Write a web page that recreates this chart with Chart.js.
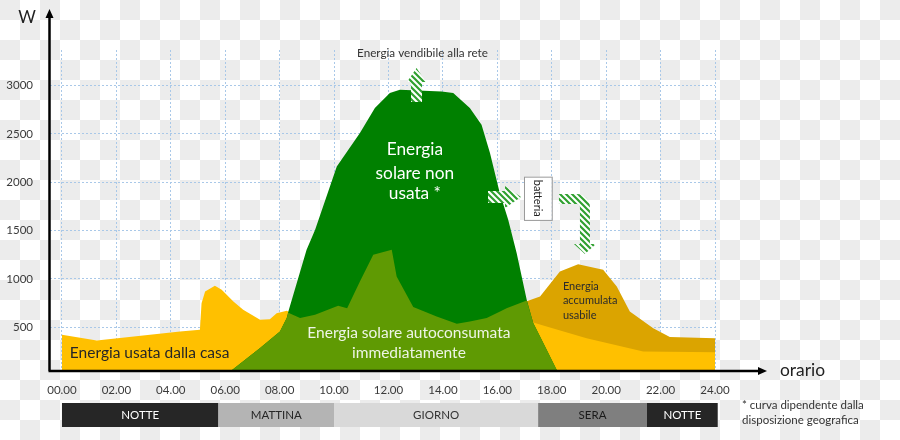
<!DOCTYPE html>
<html>
<head>
<meta charset="utf-8">
<script src="https://cdn.jsdelivr.net/npm/chart.js@4.4.1/dist/chart.umd.min.js"></script>
<style>
  html, body { margin: 0; padding: 0; }
  #wrap {
    width: 900px; height: 440px;
    background: repeating-conic-gradient(#ececec 0% 25%, #ffffff 0% 50%) 20px 0 / 40px 40px;
  }
</style>
</head>
<body>
<div id="wrap"><canvas id="chart" width="900" height="440"></canvas></div>
<script>
const tickHours = [0, 2, 4, 6, 8, 10, 12, 14, 16, 18, 20, 22, 24];
const tickWatts = [500, 1000, 1500, 2000, 2500, 3000];

// consumo casa (giallo)
const houseHours = [0, 1.28, 4.34, 5.07, 5.13, 5.26, 5.62, 5.87, 6.30, 6.66, 7.28, 7.64, 7.89, 8.26, 9.0, 10.5, 12.0, 13.5, 14.5, 16.0, 17.2, 17.81, 19.28, 21.36, 24];
const houseWatts = [420, 361, 454, 471, 748, 868, 927, 886, 765, 679, 575, 582, 644, 668, 560, 600, 650, 560, 500, 540, 557, 506, 385, 247, 240];

// produzione solare (verde scuro)
const solarHours = [6.0, 7.28, 8.01, 8.26, 8.32, 8.99, 9.30, 10.10, 10.95, 11.50, 12.05, 12.42, 13.95, 14.38, 14.99, 15.42, 15.73, 16.09, 16.40, 16.71, 17.08, 17.32, 17.69, 18.18, 18.25];
const solarWatts = [0, 282, 454, 593, 661, 1300, 1506, 2163, 2509, 2768, 2924, 2958, 2940, 2924, 2768, 2595, 2302, 1888, 1611, 1266, 782, 541, 334, 57, 0];

// autoconsumo (verde oliva)
const selfHours = [6.0, 7.28, 8.01, 8.26, 8.32, 8.75, 9.30, 10.15, 10.48, 10.95, 11.44, 12.12, 12.30, 12.91, 13.77, 14.51, 14.99, 15.61, 16.10, 16.34, 17.08, 17.32, 17.69, 18.18, 18.25];
const selfWatts = [0, 282, 454, 593, 648, 593, 627, 720, 696, 972, 1248, 1300, 1024, 707, 609, 534, 557, 593, 661, 696, 775, 541, 334, 57, 0];

// energia accumulata in batteria (ocra)
const batteryHours = [17.0, 17.57, 18.30, 18.97, 19.89, 20.39, 20.87, 21.73, 22.34, 24];
const batteryWatts = [760, 816, 1075, 1152, 1093, 920, 661, 489, 396, 385];

// fasce della giornata
const periodLabels = ['NOTTE', 'MATTINA', 'GIORNO', 'SERA', 'NOTTE'];
const periodStart = [0, 5.75, 10.0, 17.5, 21.5];
const periodEnd = [5.75, 10.0, 17.5, 21.5, 24.1];
const periodBg = ['#262626', '#b4b4b4', '#d9d9d9', '#7f7f7f', '#262626'];
const periodFg = ['#ffffff', '#262626', '#333333', '#1a1a1a', '#ffffff'];

const FONT = 'Lato, "Open Sans", sans-serif';

const toPoints = (xs, ys) => xs.map((x, i) => ({ x: x, y: ys[i] }));

function hatchPattern(ctx) {
  const c = document.createElement('canvas');
  c.width = 6; c.height = 6;
  const g = c.getContext('2d');
  g.fillStyle = '#ffffff';
  g.fillRect(0, 0, 6, 6);
  g.strokeStyle = '#30a030';
  g.lineWidth = 2.2;
  g.beginPath();
  g.moveTo(-1, -1); g.lineTo(7, 7);
  g.moveTo(-1, 5); g.lineTo(1, 7);
  g.moveTo(5, -1); g.lineTo(7, 1);
  g.stroke();
  return ctx.createPattern(c, 'repeat');
}

function text(ctx, str, x, y, size, color, align) {
  ctx.font = size + 'px ' + FONT;
  ctx.fillStyle = color;
  ctx.textAlign = align || 'center';
  ctx.textBaseline = 'middle';
  ctx.fillText(str, x, y);
}

const overlay = {
  id: 'overlay',
  afterDatasetsDraw(chart) {
    const ctx = chart.ctx;
    const xs = chart.scales.x, ys = chart.scales.y;
    const area = chart.chartArea;
    const px = h => xs.getPixelForValue(h);
    const py = w => ys.getPixelForValue(w);
    ctx.save();

    // assi con freccia
    ctx.strokeStyle = '#000'; ctx.fillStyle = '#000'; ctx.lineWidth = 2.5;
    ctx.beginPath();
    ctx.moveTo(area.left - 0.5, area.bottom); ctx.lineTo(area.left - 0.5, 16);
    ctx.moveTo(area.left - 1.5, area.bottom); ctx.lineTo(area.right + 44, area.bottom);
    ctx.stroke();
    ctx.beginPath();
    ctx.moveTo(area.left - 0.5, 9); ctx.lineTo(area.left - 4.5, 18); ctx.lineTo(area.left + 3.5, 18); ctx.closePath();
    ctx.moveTo(area.right + 52, area.bottom); ctx.lineTo(area.right + 43, area.bottom - 4); ctx.lineTo(area.right + 43, area.bottom + 4); ctx.closePath();
    ctx.fill();
    text(ctx, 'W', 27, 18, 17, '#222');
    text(ctx, 'orario', area.right + 65, area.bottom - 1, 17.4, '#222', 'left');

    // etichette delle aree
    text(ctx, 'Energia vendibile alla rete', px(13.25), py(3340), 11.7, '#333');
    ['Energia', 'solare non', 'usata *'].forEach((s, i) => text(ctx, s, px(12.97), py([2335, 2095, 1880][i]), 17.3, '#ffffff'));
    text(ctx, 'Energia solare autoconsumata', px(12.75), py(439), 15.5, '#eef5e6');
    text(ctx, 'immediatamente', px(12.75), py(231), 15.5, '#eef5e6');
    text(ctx, 'Energia usata dalla casa', px(0.29), py(235), 15.5, '#262626', 'left');
    ['Energia', 'accumulata', 'usabile'].forEach((s, i) => text(ctx, s, px(18.41), py([925, 773, 625][i]), 11, '#2b2b2b', 'left'));

    // box batteria
    const bx = px(16.98), by = py(2058), bw = px(18.0) - bx, bh = py(1610) - by;
    ctx.fillStyle = '#fff'; ctx.strokeStyle = '#9a9a9a'; ctx.lineWidth = 1;
    ctx.fillRect(bx, by, bw, bh); ctx.strokeRect(bx + 0.5, by + 0.5, bw, bh);
    ctx.save();
    ctx.translate(bx + bw / 2, by + bh / 2);
    ctx.rotate(Math.PI / 2);
    text(ctx, 'batteria', 0, 0, 11, '#222');
    ctx.restore();

    // frecce tratteggiate
    const pat = hatchPattern(ctx);
    ctx.fillStyle = pat; ctx.strokeStyle = pat;
    // verso la rete
    let ax = px(13.03), ay = py(3184);
    ctx.beginPath();
    ctx.moveTo(ax, ay); ctx.lineTo(ax + 9.5, ay + 14); ctx.lineTo(ax + 5.5, ay + 14); ctx.lineTo(ax + 5.5, ay + 34);
    ctx.lineTo(ax - 5.5, ay + 34); ctx.lineTo(ax - 5.5, ay + 14); ctx.lineTo(ax - 9.5, ay + 14); ctx.closePath();
    ctx.fill();
    // verso la batteria
    ax = px(16.87); ay = py(1847);
    ctx.beginPath();
    ctx.moveTo(ax, ay); ctx.lineTo(ax - 16, ay - 11); ctx.lineTo(ax - 16, ay - 6); ctx.lineTo(ax - 33, ay - 6);
    ctx.lineTo(ax - 33, ay + 6); ctx.lineTo(ax - 16, ay + 6); ctx.lineTo(ax - 16, ay + 11); ctx.closePath();
    ctx.fill();
    // dalla batteria verso la sera
    ax = px(19.22); ay = py(1257);
    ctx.lineWidth = 10; ctx.lineCap = 'butt';
    ctx.beginPath();
    ctx.moveTo(ax - 26, ay - 55); ctx.lineTo(ax - 8, ay - 55);
    ctx.arcTo(ax, ay - 55, ax, ay - 47, 8);
    ctx.lineTo(ax, ay - 9);
    ctx.stroke();
    ctx.beginPath();
    ctx.moveTo(ax, ay); ctx.lineTo(ax - 11, ay - 10); ctx.lineTo(ax + 11, ay - 10); ctx.closePath();
    ctx.fill();

    // fasce orarie
    const top = area.bottom + 32, h = 24;
    periodLabels.forEach((lab, i) => {
      const x0 = px(periodStart[i]), x1 = px(periodEnd[i]);
      ctx.fillStyle = periodBg[i];
      ctx.fillRect(x0, top, x1 - x0, h);
      text(ctx, lab, (x0 + x1) / 2, top + h / 2 + 0.5, 11.5, periodFg[i]);
    });

    text(ctx, '* curva dipendente dalla', area.right + 27, top + 2, 11.5, '#333', 'left');
    text(ctx, 'disposizione geografica', area.right + 27, top + 17, 11.5, '#333', 'left');
    ctx.restore();
  }
};

new Chart(document.getElementById('chart'), {
  type: 'line',
  data: {
    datasets: [
      { label: 'Energia solare autoconsumata', data: toPoints(selfHours, selfWatts), backgroundColor: '#5f9a03', fill: 'origin', order: 1 },
      { label: 'Energia solare non usata', data: toPoints(solarHours, solarWatts), backgroundColor: '#008000', fill: 'origin', order: 2 },
      { label: 'Energia usata dalla casa', data: toPoints(houseHours, houseWatts), backgroundColor: '#ffc000', fill: 'origin', order: 3 },
      { label: 'Energia accumulata usabile', data: toPoints(batteryHours, batteryWatts), backgroundColor: '#dba400', fill: 'origin', order: 4 }
    ]
  },
  options: {
    responsive: false,
    animation: false,
    layout: { padding: { top: 50, right: 185, left: 0, bottom: 0 } },
    elements: { point: { radius: 0 }, line: { borderWidth: 0, tension: 0 } },
    plugins: { legend: { display: false }, tooltip: { enabled: false } },
    scales: {
      x: {
        type: 'linear', min: -0.44, max: 24,
        afterFit: s => { s.height = 69; },
        afterBuildTicks: s => { s.ticks = tickHours.map(v => ({ value: v })); },
        grid: { color: '#a9c8e8', lineWidth: 1, drawTicks: false },
        border: { display: false, dash: [2, 2] },
        ticks: {
          padding: 12, color: '#3a3a3a', font: { family: FONT, size: 11.5 }, maxRotation: 0,
          callback: v => String(v).padStart(2, '0') + '.00'
        }
      },
      y: {
        min: 45, max: 3370,
        afterFit: s => { s.width = 50; },
        afterBuildTicks: s => { s.ticks = tickWatts.map(v => ({ value: v })); },
        grid: { color: '#a9c8e8', lineWidth: 1, drawTicks: false },
        border: { display: false, dash: [2, 2] },
        ticks: { padding: 17, color: '#3a3a3a', font: { family: FONT, size: 11.5 }, callback: v => String(v) }
      }
    }
  },
  plugins: [overlay]
});
</script>
</body>
</html>
